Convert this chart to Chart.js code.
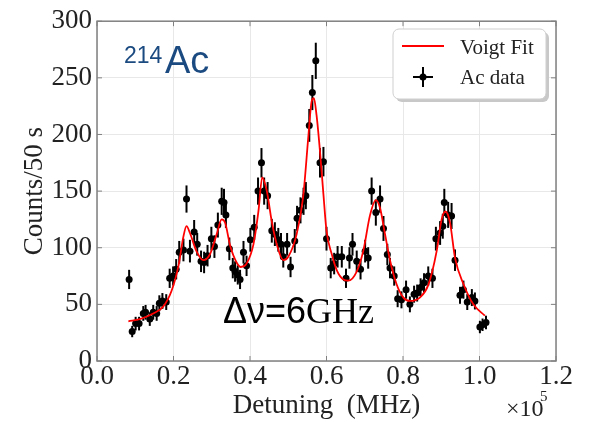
<!DOCTYPE html>
<html>
<head>
<meta charset="utf-8">
<script src="https://cdn.jsdelivr.net/npm/chart.js@4.4.0/dist/chart.umd.min.js"></script>
<style>body{margin:0;background:#fff}</style>
</head>
<body>
<canvas id="voigtChart" width="591" height="424"></canvas>
<script>
// 數據點 (detuning 以 1e5 MHz 為單位)
const detuning = [0.084,0.092,0.101,0.110,0.121,0.127,0.138,0.147,0.156,0.163,0.171,0.181,0.190,0.199,0.207,0.215,0.226,0.234,0.243,0.254,
  0.262,0.272,0.280,0.289,0.299,0.307,0.316,0.326,0.332,0.337,0.346,0.355,0.361,0.368,0.374,0.383,0.391,0.401,0.411,0.421,
  0.430,0.437,0.446,0.457,0.465,0.474,0.481,0.487,0.497,0.506,0.517,0.523,0.532,0.540,0.546,0.555,0.563,0.572,0.583,0.592,
  0.600,0.611,0.620,0.629,0.640,0.651,0.660,0.668,0.679,0.689,0.701,0.709,0.718,0.729,0.740,0.749,0.759,0.766,0.777,0.786,
  0.796,0.808,0.818,0.829,0.837,0.846,0.855,0.866,0.877,0.886,0.897,0.904,0.908,0.918,0.927,0.936,0.949,0.958,0.968,0.980,
  0.988,1.001,1.008,1.017];
const counts = [72,26,33,33,42,43,37,43,42,51,53,52,73,75,81,96,98,143,97,114,
  103,88,87,93,108,101,120,141,140,129,99,82,79,76,72,96,84,107,118,150,
  175,150,146,115,112,107,103,92,103,83,106,126,133,141,146,208,237,265,175,176,
  108,82,86,92,92,73,91,103,88,81,97,91,150,131,143,117,94,82,75,55,
  54,63,50,59,60,65,69,75,73,108,113,119,140,129,128,89,58,63,52,56,
  53,30,32,34];
const countErr = [8.5,5,6,6,6.5,6.5,6,6.5,6.5,7,7,7,8.5,8.5,9,10,10,12,10,10.5,
  10,9.5,9.5,9.5,10.5,10,11,12,12,11.5,10,9,9,8.5,8.5,10,9,10.5,11,12,
  13,12,12,10.5,10.5,10.5,10,9.5,10,9,10.5,11,11.5,12,12,14.5,15.5,16,13,13,
  10.5,9,9.5,9.5,9.5,8.5,9.5,10,9.5,9,10,9.5,12,11.5,12,11,9.5,9,8.5,7.5,
  7.5,8,7,7.5,7.5,8,8.5,8.5,8.5,10.5,10.5,11,12,11.5,11.5,9.5,7.5,8,7,7.5,
  7.5,5.5,5.5,6];

// Voigt 擬合曲線
const fitX = [0.082,0.112,0.147,0.173,0.195,0.213,0.226,0.234,0.243,0.260,0.278,0.295,0.313,0.326,0.335,0.348,0.365,0.376,0.391,0.409,
  0.422,0.432,0.444,0.457,0.470,0.487,0.500,0.522,0.539,0.553,0.561,0.567,0.574,0.583,0.592,0.600,0.614,0.627,0.644,0.657,
  0.679,0.696,0.714,0.729,0.740,0.753,0.766,0.783,0.801,0.818,0.844,0.866,0.888,0.901,0.911,0.923,0.936,0.958,0.984,1.014];
const fitY = [35,37,42,48,62,84,110,119,113,97,89,94,112,125,122,102,87,83,86,103,
  132,162,150,123,103,89,92,112,145,200,229,232,217,185,147,115,94,80,72,71,
  79,97,129,142,135,112,89,68,56,53,56,67,97,125,132,122,91,68,50,40];

const xTicks = [0.0, 0.2, 0.4, 0.6, 0.8, 1.0, 1.2];
const yTicks = [0, 50, 100, 150, 200, 250, 300];

const serif = "'Liberation Serif', 'DejaVu Serif', serif";
const sans = "'Liberation Sans', Arial, sans-serif";

const decorPlugin = {
    id: 'decor',
    beforeDatasetsDraw(chart) {
        // 誤差棒
        const { ctx, scales: { x, y } } = chart;
        ctx.save();
        ctx.strokeStyle = '#000';
        ctx.lineWidth = 2;
        detuning.forEach((d, i) => {
            const px = x.getPixelForValue(d);
            ctx.beginPath();
            ctx.moveTo(px, y.getPixelForValue(counts[i] - countErr[i]));
            ctx.lineTo(px, y.getPixelForValue(counts[i] + countErr[i]));
            ctx.stroke();
        });
        ctx.restore();
    },
    afterDraw(chart) {
        const { ctx, chartArea: a, scales: { x, y } } = chart;
        ctx.save();
        // 外框 + 向內刻度
        ctx.strokeStyle = '#808080';
        ctx.lineWidth = 1.5;
        ctx.strokeRect(a.left, a.top, a.right - a.left, a.bottom - a.top);
        ctx.lineWidth = 1;
        xTicks.forEach(v => {
            const px = x.getPixelForValue(v);
            ctx.beginPath();
            ctx.moveTo(px, a.bottom); ctx.lineTo(px, a.bottom - 5);
            ctx.moveTo(px, a.top); ctx.lineTo(px, a.top + 5);
            ctx.stroke();
        });
        yTicks.forEach(v => {
            const py = y.getPixelForValue(v);
            ctx.beginPath();
            ctx.moveTo(a.left, py); ctx.lineTo(a.left + 5, py);
            ctx.moveTo(a.right, py); ctx.lineTo(a.right - 5, py);
            ctx.stroke();
        });

        // 軸標題
        ctx.fillStyle = '#222';
        ctx.font = '27px ' + serif;
        ctx.textAlign = 'center';
        ctx.textBaseline = 'alphabetic';
        ctx.fillText('Detuning  (MHz)', (a.left + a.right) / 2, 413);
        ctx.save();
        ctx.translate(42, (a.top + a.bottom) / 2);
        ctx.rotate(-Math.PI / 2);
        ctx.fillText('Counts/50 s', 0, 0);
        ctx.restore();
        ctx.textAlign = 'left';
        ctx.font = '24px ' + serif;
        ctx.fillText('\u00d710', 506, 416);
        ctx.font = '15px ' + serif;
        ctx.fillText('5', 540, 401);

        // 圖例
        const lx = 393, ly = 29, lw = 153, lh = 70;
        ctx.fillStyle = '#c8c8c8';
        ctx.beginPath(); ctx.roundRect(lx + 3, ly + 3, lw, lh, 6); ctx.fill();
        ctx.fillStyle = '#fff';
        ctx.strokeStyle = '#cfcfcf';
        ctx.lineWidth = 1;
        ctx.beginPath(); ctx.roundRect(lx, ly, lw, lh, 6); ctx.fill(); ctx.stroke();
        ctx.strokeStyle = '#ff0000';
        ctx.lineWidth = 1.8;
        ctx.beginPath(); ctx.moveTo(402, 46); ctx.lineTo(444, 46); ctx.stroke();
        ctx.strokeStyle = '#000';
        ctx.lineWidth = 2;
        ctx.beginPath();
        ctx.moveTo(413, 77); ctx.lineTo(433, 77);
        ctx.moveTo(423, 67); ctx.lineTo(423, 87);
        ctx.stroke();
        ctx.fillStyle = '#000';
        ctx.beginPath(); ctx.arc(423, 77, 3.5, 0, Math.PI * 2); ctx.fill();
        ctx.fillStyle = '#222';
        ctx.font = '21px ' + serif;
        ctx.fillText('Voigt Fit', 460, 54);
        ctx.fillText('Ac data', 460, 84);

        // 註解文字
        ctx.fillStyle = '#1b4a80';
        ctx.font = '23px ' + sans;
        ctx.fillText('214', 124, 63);
        ctx.font = '38px ' + sans;
        ctx.fillText('Ac', 165, 73);
        ctx.fillStyle = '#000';
        ctx.font = '36px ' + sans;
        ctx.fillText('\u0394\u03bd=6', 223, 323);
        const w = ctx.measureText('\u0394\u03bd=6').width;
        ctx.font = '36px ' + serif;
        ctx.fillText('GHz', 223 + w, 323);
        ctx.restore();
    }
};

const ctx = document.getElementById('voigtChart').getContext('2d');
const voigtChart = new Chart(ctx, {
    type: 'scatter',
    data: {
        datasets: [{
            label: 'Ac data',
            data: detuning.map((d, i) => ({ x: d, y: counts[i] })),
            backgroundColor: '#000',
            borderWidth: 0,
            pointRadius: 3.5,
            order: 1
        }, {
            type: 'line',
            label: 'Voigt Fit',
            data: fitX.map((d, i) => ({ x: d, y: fitY[i] })),
            borderColor: '#ff0000',
            borderWidth: 1.8,
            pointRadius: 0,
            fill: false,
            cubicInterpolationMode: 'monotone',
            order: 0
        }]
    },
    options: {
        responsive: false,
        animation: false,
        layout: { padding: { top: 19, right: 35, left: 0, bottom: 0 } },
        scales: {
            x: {
                type: 'linear',
                min: 0, max: 1.2,
                afterBuildTicks: s => { s.ticks = xTicks.map(v => ({ value: v })); },
                afterFit: s => { s.height = 63; },
                ticks: {
                    callback: v => v.toFixed(1),
                    font: { family: serif, size: 27 },
                    color: '#222',
                    padding: 0,
                    maxRotation: 0
                },
                grid: { color: '#e8e8e8', drawTicks: false },
                border: { display: false }
            },
            y: {
                min: 0, max: 300,
                afterBuildTicks: s => { s.ticks = yTicks.map(v => ({ value: v })); },
                afterFit: s => { s.width = 97; },
                ticks: {
                    font: { family: serif, size: 27 },
                    color: '#222',
                    padding: 5
                },
                grid: { color: '#e8e8e8', drawTicks: false },
                border: { display: false }
            }
        },
        plugins: {
            legend: { display: false },
            tooltip: { enabled: false }
        }
    },
    plugins: [decorPlugin]
});
</script>
</body>
</html>
